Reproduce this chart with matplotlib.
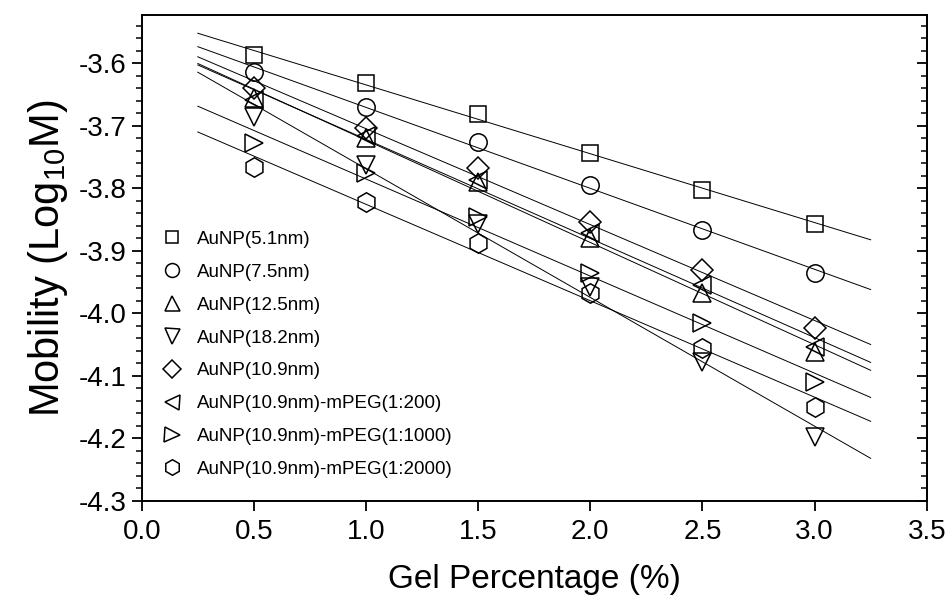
import numpy as np
import matplotlib
matplotlib.use("Agg")
import matplotlib.pyplot as plt
from matplotlib.ticker import MultipleLocator
from matplotlib import font_manager

plt.rcParams['font.family'] = ['Liberation Sans', 'DejaVu Sans']
plt.rcParams['mathtext.fontset'] = 'custom'
plt.rcParams['mathtext.rm'] = 'Liberation Sans'
plt.rcParams['mathtext.it'] = 'Liberation Sans'

gel = [0.5, 1.0, 1.5, 2.0, 2.5, 3.0]
labels = ["AuNP(5.1nm)", "AuNP(7.5nm)", "AuNP(12.5nm)", "AuNP(18.2nm)",
          "AuNP(10.9nm)", "AuNP(10.9nm)-mPEG(1:200)",
          "AuNP(10.9nm)-mPEG(1:1000)", "AuNP(10.9nm)-mPEG(1:2000)"]
au51 = [-3.587, -3.632, -3.681, -3.744, -3.803, -3.857]
au75 = [-3.614, -3.670, -3.726, -3.795, -3.867, -3.935]
au125 = [-3.656, -3.720, -3.790, -3.880, -3.967, -4.062]
au182 = [-3.686, -3.763, -3.857, -3.958, -4.078, -4.197]
au109 = [-3.640, -3.704, -3.767, -3.854, -3.931, -4.023]
peg200 = [-3.659, -3.717, -3.787, -3.872, -3.955, -4.054]
peg1000 = [-3.728, -3.776, -3.846, -3.935, -4.015, -4.110]
peg2000 = [-3.766, -3.822, -3.888, -3.967, -4.055, -4.150]
series = [au51, au75, au125, au182, au109, peg200, peg1000, peg2000]
markers = ['s', 'o', '^', 'v', 'D', '<', '>', 'h']
msizes = [11.5, 12.5, 13.5, 13.5, 11.5, 13.5, 13.5, 14.0]
fit_range = [0.25, 3.25]

# use a narrow face for the y label if one is installed
names = {f.name for f in font_manager.fontManager.ttflist}
narrow = 'Liberation Sans Narrow' if 'Liberation Sans Narrow' in names else None

fig = plt.figure(figsize=(9.5, 6.06), dpi=100)
ax = fig.add_axes([0.1492, 0.1733, 0.8263, 0.802])

xf = np.array(fit_range)
for vals, mk, ms, lab in zip(series, markers, msizes, labels):
    p = np.polyfit(gel, vals, 1)
    ax.plot(xf, np.polyval(p, xf), color='black', lw=0.7, zorder=2)
    ax.plot(gel, vals, linestyle='none', marker=mk, ms=ms, mfc='none',
            mec='black', mew=1.1, label=lab, zorder=3)

ax.set_xlim(0.0, 3.5)
ax.set_ylim(-4.3, -3.523)
ax.xaxis.set_major_locator(MultipleLocator(0.5))
ax.yaxis.set_major_locator(MultipleLocator(0.1))
ax.yaxis.set_minor_locator(MultipleLocator(0.02))
ax.xaxis.set_major_formatter(matplotlib.ticker.FormatStrFormatter('%.1f'))
ax.yaxis.set_major_formatter(matplotlib.ticker.FormatStrFormatter('%.1f'))

ax.tick_params(axis='both', which='major', labelsize=20, width=1.3, length=7)
ax.tick_params(axis='y', which='minor', width=1.1, length=4)
ax.tick_params(axis='y', which='both', left=True, right=False, direction='out', pad=4)
ax.tick_params(axis='x', which='major', direction='out', pad=6)
for sp in ax.spines.values():
    sp.set_linewidth(1.4)

# right spine ticks point inward
ax2 = ax.secondary_yaxis('right')
ax2.yaxis.set_major_locator(MultipleLocator(0.1))
ax2.yaxis.set_minor_locator(MultipleLocator(0.02))
ax2.tick_params(axis='y', which='major', direction='in', length=7, width=1.3, labelright=False)
ax2.tick_params(axis='y', which='minor', direction='in', length=4, width=1.1)
ax2.spines['right'].set_linewidth(1.4)

ax.set_xlabel('Gel Percentage (%)', fontsize=24, labelpad=14)
if narrow:
    ax.set_ylabel('Mobility (Log$_{10}$M)', fontsize=34, labelpad=6,
                  family=[narrow, 'DejaVu Sans'])
else:
    ax.set_ylabel('Mobility (Log$_{10}$M)', fontsize=30, labelpad=6)

leg = ax.legend(loc='upper left', bbox_to_anchor=(0.0266, 0.556), frameon=False,
                fontsize=13.5, handlelength=1.0, handletextpad=0.83,
                labelspacing=0.84, borderpad=0, borderaxespad=0, markerscale=0.8)

fig.savefig('out.png', dpi=100)
